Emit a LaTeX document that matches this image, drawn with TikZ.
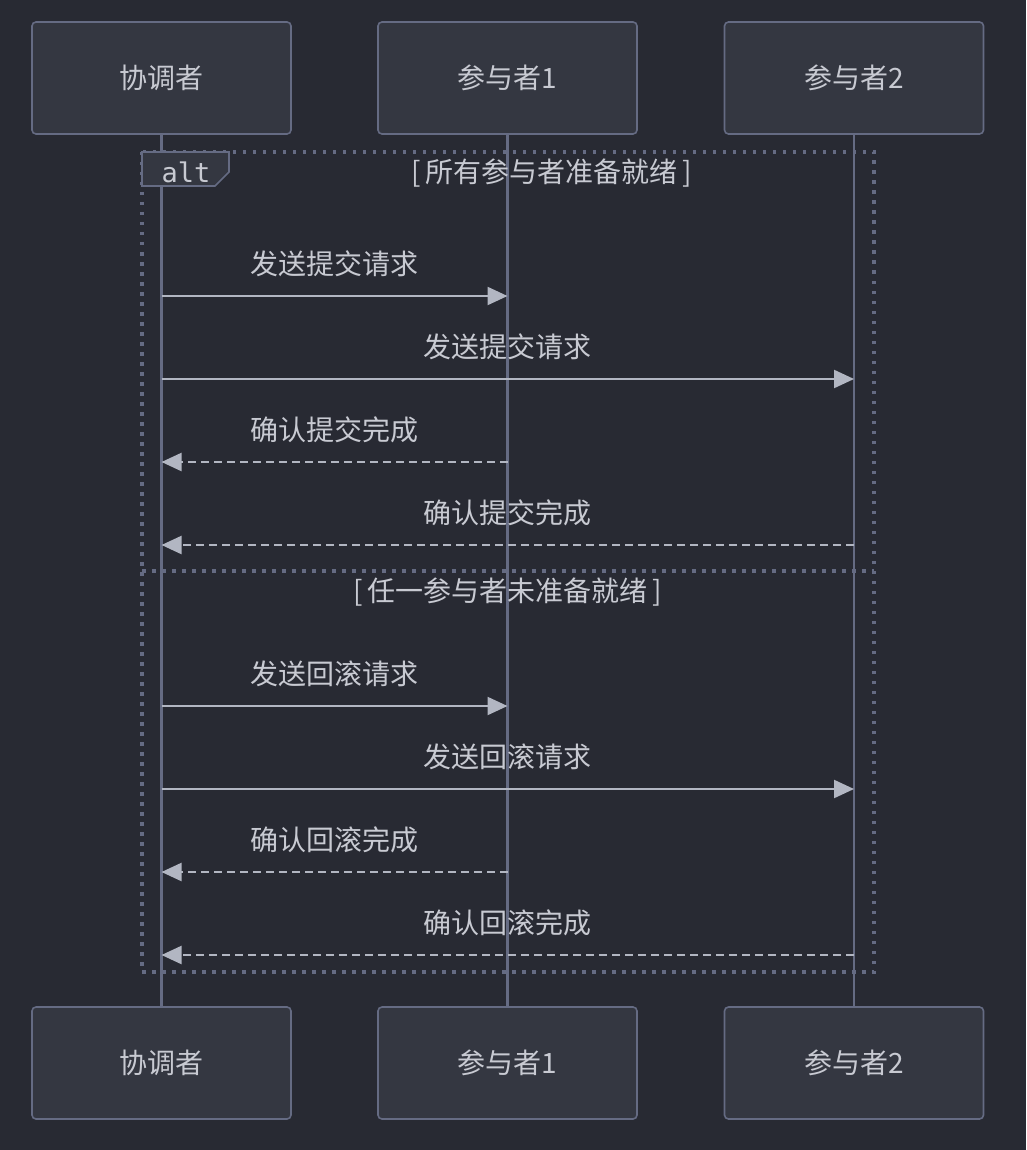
\documentclass[tikz,border=0pt]{standalone}
\usepackage{fontspec}
\usepackage{tikz}
\usetikzlibrary{arrows.meta, calc, positioning}
\newfontfamily\cjk{Noto Sans CJK SC}
\newfontfamily\monofont{DejaVu Sans Mono}
\definecolor{bgcol}{HTML}{282A33}
\definecolor{boxfill}{HTML}{343741}
\definecolor{boxline}{HTML}{656B83}
\definecolor{txtcol}{HTML}{C8CAD2}
\definecolor{arrcol}{HTML}{B2B6C2}

\begin{document}
\begin{tikzpicture}[x=1pt, y=-1pt,
  actor/.style={draw=boxline, fill=boxfill, line width=1.6pt, rounded corners=4pt,
    minimum width=259pt, minimum height=112pt, text=txtcol,
    font=\cjk\fontsize{28}{32}\selectfont},
  lifeline/.style={draw=boxline, line width=2.4pt},
  msg/.style={draw=arrcol, line width=2.2pt, -{Triangle[length=20pt, width=18pt]}},
  reply/.style={msg, dash pattern=on 8pt off 5pt},
  lbl/.style={text=txtcol, font=\cjk\fontsize{28}{32}\selectfont, yshift=32pt, inner sep=0pt},
  frame/.style={draw=boxline, line width=3.2pt, dash pattern=on 3.5pt off 6.5pt},
  cond/.style={text=txtcol, font=\cjk\fontsize{28}{32}\selectfont, inner sep=0pt}]
\fill[bgcol] (0,0) rectangle (1026,1150);
\useasboundingbox (0,0) rectangle (1026,1150);
% actors
\node[actor] (coord) at (161.5,78) {协调者};
\node[actor] (p1) at (507.5,78) {参与者1};
\node[actor] (p2) at (854,78) {参与者2};
\node[actor] (coordB) at (161.5,1063) {协调者};
\node[actor] (p1B) at (507.5,1063) {参与者1};
\node[actor] (p2B) at (854,1063) {参与者2};
% lifelines
\draw[lifeline] (coord.south) -- (coordB.north);
\draw[lifeline] (p1.south) -- (p1B.north);
\draw[lifeline] (p2.south) -- (p2B.north);
% alt frame
\draw[frame] (142,152) rectangle (874,972);
\draw[frame] (142,571) -- (874,571);
\draw[draw=boxline, fill=boxfill, line width=1.6pt] (142,152) -- (229,152) -- (229,172) -- (215,186) -- (142,186) -- cycle;
\node[text=txtcol, font=\monofont\fontsize{27}{30}\selectfont, inner sep=0pt] (alt) at (186,172) {alt};
\node[cond] (ok) at (552,173) {[\,所有参与者准备就绪\,]};
\node[cond] (fail) at (508,592) {[\,任一参与者未准备就绪\,]};
% commit
\draw[msg] (coord.south |- 0,296) -- node[lbl] (m1) {发送提交请求} (p1.south |- 0,296);
\draw[msg] (coord.south |- 0,379) -- node[lbl] (m2) {发送提交请求} (p2.south |- 0,379);
\draw[reply] (p1.south |- 0,462) -- node[lbl] (m3) {确认提交完成} (coord.south |- 0,462);
\draw[reply] (p2.south |- 0,545) -- node[lbl] (m4) {确认提交完成} (coord.south |- 0,545);
% rollback
\draw[msg] (coord.south |- 0,706) -- node[lbl] (m5) {发送回滚请求} (p1.south |- 0,706);
\draw[msg] (coord.south |- 0,789) -- node[lbl] (m6) {发送回滚请求} (p2.south |- 0,789);
\draw[reply] (p1.south |- 0,872) -- node[lbl] (m7) {确认回滚完成} (coord.south |- 0,872);
\draw[reply] (p2.south |- 0,955) -- node[lbl] (m8) {确认回滚完成} (coord.south |- 0,955);
\end{tikzpicture}
\end{document}
